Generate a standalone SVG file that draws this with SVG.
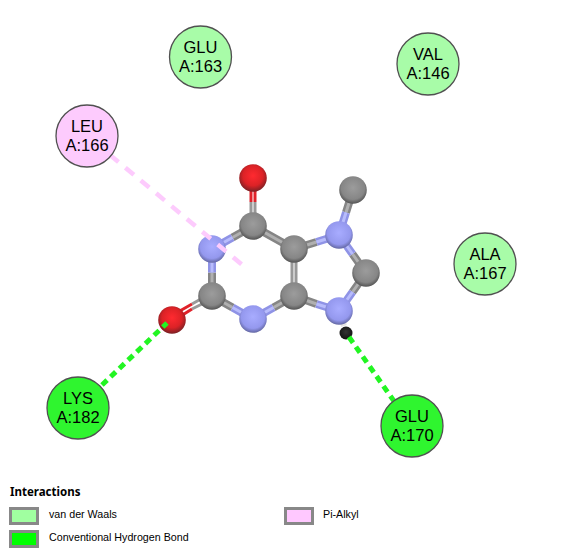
<svg xmlns="http://www.w3.org/2000/svg" width="563" height="557" viewBox="0 0 563 557">
<style>
.res{stroke:#505050;stroke-width:1.3}
.vdw{fill:#a8fca8}.hb{fill:#2ff52f}.pi{fill:#fdcbfd}
.rt{font-family:"Liberation Sans",Arial,sans-serif;font-size:16.5px;fill:#000;text-anchor:middle}
.lg{font-family:"Liberation Sans",Arial,sans-serif;font-size:10.700px;fill:#000}
.lt{font-family:"Noto Sans",sans-serif;font-size:11.500px;font-weight:700;fill:#000}
.sw{stroke:#888;stroke-width:3}
.cg1{stroke:#858585;stroke-width:8;fill:none}
.cg2{stroke:#b0b0b0;stroke-width:3;fill:none}
.cn1{stroke:#8f93e6;stroke-width:8;fill:none}
.cn2{stroke:#b8bcfc;stroke-width:3;fill:none}
.dg{stroke:#999;stroke-width:3;fill:none}
.dr{stroke:#e0222a;stroke-width:3;fill:none}
.dh{stroke:#e4e4e4;stroke-width:6;fill:none}
.c{fill:url(#gc)}.n{fill:url(#gn)}.o{fill:url(#go)}.h{fill:url(#gh)}
.dp{fill:none;stroke:#fdcbfd;stroke-width:4.500;stroke-dasharray:11 9}
.dv{fill:none;stroke:#22f522;stroke-width:5;stroke-dasharray:7 5}
</style>
<defs>
<radialGradient id="gc" cx="0.5" cy="0.42" r="0.6"><stop offset="0" stop-color="#9c9c9c"/><stop offset="0.7" stop-color="#868686"/><stop offset="1" stop-color="#4c4c4c"/></radialGradient>
<radialGradient id="gn" cx="0.5" cy="0.42" r="0.6"><stop offset="0" stop-color="#a8acff"/><stop offset="0.7" stop-color="#9498ee"/><stop offset="1" stop-color="#5c6098"/></radialGradient>
<radialGradient id="go" cx="0.5" cy="0.42" r="0.6"><stop offset="0" stop-color="#ff2a30"/><stop offset="0.6" stop-color="#dc2226"/><stop offset="1" stop-color="#702024"/></radialGradient>
<radialGradient id="gh" cx="0.5" cy="0.42" r="0.6"><stop offset="0" stop-color="#333"/><stop offset="1" stop-color="#111"/></radialGradient>
</defs>
<rect width="563" height="557" fill="#fff"/>
<g id="molecule-bonds">
<path class="cg1" d="M253 226L232.500 237.500M212 296L212 272.500M212 296L232.500 307.500M294 296L273.500 307.500M253 226L294 249M294 249L316.500 242M294 296L316.500 304M353 190L346 212.500M366 273L352.500 254M366 273L352.500 292"/>
<path class="cg2" d="M253 226L232.500 237.500M212 296L212 272.500M212 296L232.500 307.500M294 296L273.500 307.500M253 226L294 249M294 249L316.500 242M294 296L316.500 304M353 190L346 212.500M366 273L352.500 254M366 273L352.500 292"/>
<path class="cn1" d="M212 249L232.500 237.500M212 249L212 272.500M253 319L232.500 307.500M253 319L273.500 307.500M339 235L316.500 242M339 311L316.500 304M339 235L352.500 254M339 311L352.500 292M339 235L346 212.500"/>
<path class="cn2" d="M212 249L232.500 237.500M212 249L212 272.500M253 319L232.500 307.500M253 319L273.500 307.500M339 235L316.500 242M339 311L316.500 304M339 235L352.500 254M339 311L352.500 292M339 235L346 212.500"/>
<path class="dg" d="M292 249L292 296M296 249L296 296"/>
<path class="dg" d="M251 226L251 202M255 226L255 202"/>
<path class="dr" d="M251 202L251 178M255 202L255 178"/>
<path class="dg" d="M210.500 293.500L192 304M213 298.500L192 309"/>
<path class="dr" d="M192 304L171 316M192 309L173 321"/>
<path class="dh" d="M339 311L344 326"/>
</g>
<g id="atoms">
<circle class="o" cx="253" cy="178" r="13.800"/>
<circle class="c" cx="253" cy="226" r="13.800"/>
<circle class="n" cx="212" cy="249" r="13.800"/>
<circle class="c" cx="212" cy="296" r="13.800"/>
<circle class="o" cx="172" cy="320" r="13.800"/>
<circle class="n" cx="253" cy="319" r="13.800"/>
<circle class="c" cx="294" cy="296" r="13.800"/>
<circle class="c" cx="294" cy="249" r="13.800"/>
<circle class="n" cx="339" cy="235" r="13.800"/>
<circle class="c" cx="353" cy="190" r="13.800"/>
<circle class="c" cx="366" cy="273" r="13.800"/>
<circle class="n" cx="339" cy="311" r="13.800"/>
<circle class="h" cx="346" cy="333" r="6.500"/>
</g>
<g id="connectors">
<path class="dp" d="M110 155L246 268"/>
<path class="dv" d="M102 385L167 323"/>
<path class="dv" d="M349 337L396 404"/>
</g>
<g id="GLU163"><circle class="res vdw" cx="200.500" cy="57" r="31"/><text class="rt" x="200.500" y="53">GLU</text><text class="rt" x="200.500" y="72">A:163</text></g>
<g id="VAL146"><circle class="res vdw" cx="428" cy="64" r="31"/><text class="rt" x="428" y="60">VAL</text><text class="rt" x="428" y="79">A:146</text></g>
<g id="LEU166"><circle class="res pi" cx="87" cy="136" r="31"/><text class="rt" x="87" y="132">LEU</text><text class="rt" x="87" y="151">A:166</text></g>
<g id="ALA167"><circle class="res vdw" cx="485" cy="264" r="31"/><text class="rt" x="485" y="260">ALA</text><text class="rt" x="485" y="279">A:167</text></g>
<g id="LYS182"><circle class="res hb" cx="78" cy="408" r="31"/><text class="rt" x="78" y="404">LYS</text><text class="rt" x="78" y="423">A:182</text></g>
<g id="GLU170"><circle class="res hb" cx="412" cy="426" r="31"/><text class="rt" x="412" y="422">GLU</text><text class="rt" x="412" y="441">A:170</text></g>
<g id="legend">
<text class="lt" x="10" y="496">Interactions</text>
<rect class="sw" x="10.500" y="508.500" width="27" height="15" fill="#a0ffa0"/>
<text class="lg" x="49" y="518">van der Waals</text>
<rect class="sw" x="10.500" y="531.500" width="27" height="15" fill="#0f0"/>
<text class="lg" x="49" y="541">Conventional Hydrogen Bond</text>
<rect class="sw" x="285.500" y="508.500" width="27" height="15" fill="#ffc8ff"/>
<text class="lg" x="323" y="518">Pi-Alkyl</text>
</g>
</svg>
